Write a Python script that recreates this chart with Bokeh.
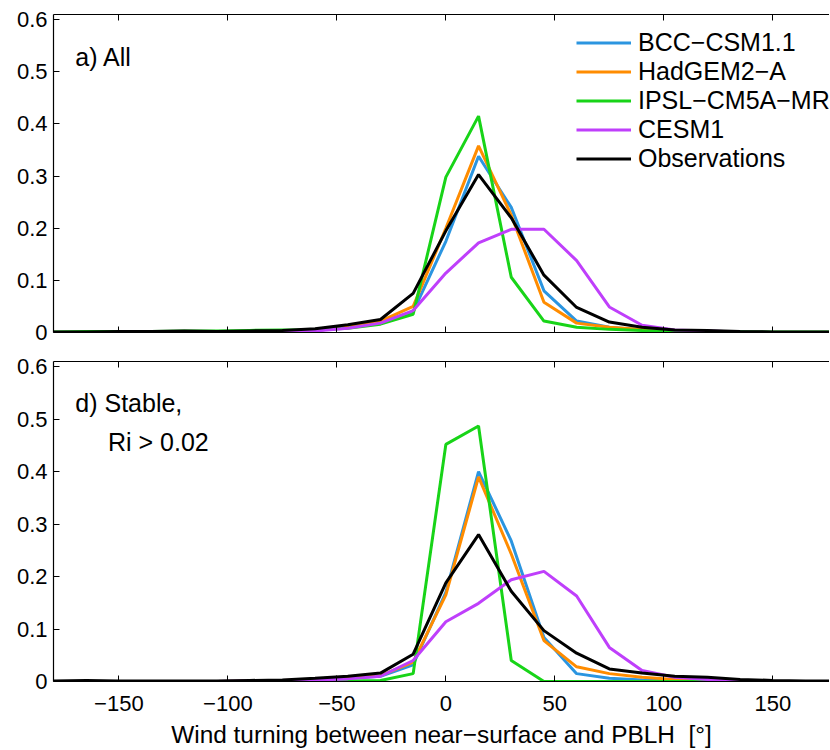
from bokeh.plotting import figure
from bokeh.layouts import column
from bokeh.models import Label, Legend, LegendItem, LinearAxis, FixedTicker
from bokeh.embed import file_html
from bokeh.resources import INLINE

# ---------------- data ----------------
angles = [-180, -165, -150, -135, -120, -105, -90, -75, -60, -45, -30, -15,
          0, 15, 30, 45, 60, 75, 90, 105, 120, 135, 150, 165, 180]

series_names = ["BCC\u2212CSM1.1", "HadGEM2\u2212A", "IPSL\u2212CM5A\u2212MR", "CESM1", "Observations"]
series_colors = ["#2b95e0", "#ff8c00", "#18d418", "#bf3ffb", "#000000"]

# panel a) All
bcc_all = [0, 0, 0, 0, 0, 0, 0.001, 0.002, 0.004, 0.010, 0.020, 0.040,
           0.175, 0.338, 0.240, 0.080, 0.022, 0.010, 0.005, 0.003, 0.002, 0.001, 0, 0, 0]
had_all = [0, 0, 0, 0, 0, 0, 0.001, 0.002, 0.004, 0.010, 0.022, 0.050,
           0.200, 0.358, 0.225, 0.058, 0.018, 0.010, 0.006, 0.004, 0.002, 0.001, 0, 0, 0]
ipsl_all = [0.001, 0.002, 0.002, 0.002, 0.003, 0.003, 0.004, 0.005, 0.005, 0.008, 0.016, 0.035,
            0.298, 0.415, 0.106, 0.022, 0.010, 0.006, 0.004, 0.003, 0.002, 0.002, 0.001, 0.001, 0.001]
cesm_all = [0, 0, 0, 0, 0, 0, 0, 0.001, 0.003, 0.008, 0.018, 0.042,
            0.114, 0.172, 0.198, 0.198, 0.138, 0.049, 0.014, 0.005, 0.003, 0.001, 0, 0, 0]
obs_all = [0.001, 0.001, 0.002, 0.002, 0.003, 0.002, 0.003, 0.004, 0.007, 0.015, 0.025, 0.075,
           0.195, 0.303, 0.220, 0.110, 0.048, 0.020, 0.010, 0.005, 0.004, 0.002, 0.001, 0.001, 0.001]

# panel d) Stable, Ri > 0.02
bcc_st = [0, 0, 0, 0, 0, 0, 0.001, 0.001, 0.003, 0.006, 0.010, 0.032,
          0.170, 0.400, 0.268, 0.084, 0.015, 0.006, 0.003, 0.002, 0.001, 0, 0, 0, 0]
had_st = [0, 0, 0, 0, 0, 0, 0.001, 0.002, 0.003, 0.006, 0.011, 0.037,
          0.165, 0.390, 0.243, 0.078, 0.028, 0.015, 0.008, 0.004, 0.002, 0.001, 0, 0, 0]
ipsl_st = [0, 0, 0, 0, 0, 0, 0, 0, 0, 0.001, 0.002, 0.015,
           0.452, 0.487, 0.040, 0.000, 0, 0, 0, 0, 0, 0, 0, 0, 0]
cesm_st = [0, 0, 0, 0, 0, 0, 0.001, 0.002, 0.003, 0.005, 0.010, 0.040,
           0.114, 0.149, 0.194, 0.210, 0.163, 0.065, 0.021, 0.008, 0.004, 0.002, 0, 0, 0]
obs_st = [0.001, 0.002, 0.001, 0.001, 0.001, 0.001, 0.002, 0.003, 0.006, 0.010, 0.016, 0.052,
          0.188, 0.280, 0.172, 0.097, 0.054, 0.024, 0.016, 0.010, 0.008, 0.004, 0.002, 0.001, 0.001]

x_ticks = [-150, -100, -50, 0, 50, 100, 150]
x_tick_labels = ["\u2212150", "\u2212100", "\u221250", "0", "50", "100", "150"]
y_ticks = [0, 0.1, 0.2, 0.3, 0.4, 0.5, 0.6]
y_tick_labels = ["0", "0.1", "0.2", "0.3", "0.4", "0.5", "0.6"]

x_label = "Wind turning between near\u2212surface and PBLH\u00a0 [\u00b0]"

FONT = "Liberation Sans"


def style_axis(ax, ticks, labels, show_labels, size="22px", standoff=6):
    ax.ticker = FixedTicker(ticks=ticks)
    ax.minor_tick_line_color = None
    ax.major_tick_in = 6
    ax.major_tick_out = 0
    ax.axis_line_color = "black"
    ax.axis_line_width = 1.2
    ax.major_tick_line_color = "black"
    ax.major_tick_line_width = 1
    ax.major_label_text_font = FONT
    if show_labels:
        ax.major_label_overrides = {t: l for t, l in zip(ticks, labels)}
        ax.major_label_text_color = "black"
        ax.major_label_text_font_size = size
        ax.major_label_standoff = standoff
    else:
        ax.major_label_overrides = {t: "" for t in ticks}
        ax.major_label_text_color = None
        ax.major_label_text_alpha = 0
        ax.major_label_standoff = 0


def make_panel(data, frame_h, border_top, border_bottom, bottom_labels):
    p = figure(frame_width=776, frame_height=frame_h,
               x_range=(-180, 176), y_range=(0, 0.61),
               output_backend="svg", toolbar_location=None,
               min_border_left=53, min_border_right=0,
               min_border_top=border_top, min_border_bottom=border_bottom,
               x_axis_location=None, y_axis_location=None)
    p.outline_line_color = None
    p.grid.visible = False
    p.background_fill_color = "white"
    p.border_fill_color = "white"

    left = LinearAxis()
    style_axis(left, y_ticks, y_tick_labels, True, size="22px", standoff=6)
    p.add_layout(left, "left")

    below = LinearAxis()
    style_axis(below, x_ticks, x_tick_labels, bottom_labels, size="22px", standoff=14)
    if bottom_labels:
        below.axis_label = x_label
        below.axis_label_text_font = FONT
        below.axis_label_text_font_size = "24.4px"
        below.axis_label_text_font_style = "normal"
        below.axis_label_text_color = "black"
        below.axis_label_standoff = 7
    p.add_layout(below, "below")

    above = LinearAxis()
    style_axis(above, x_ticks, x_tick_labels, False)
    p.add_layout(above, "above")

    renderers = []
    for ys, col in zip(data, series_colors):
        r = p.line(angles, ys, line_color=col, line_width=3)
        renderers.append(r)
    return p, renderers


p1, r1 = make_panel([bcc_all, had_all, ipsl_all, cesm_all, obs_all], 318, 14, 14, False)
p2, r2 = make_panel([bcc_st, had_st, ipsl_st, cesm_st, obs_st], 320, 15, 10, True)

legend = Legend(items=[LegendItem(label=n, renderers=[r]) for n, r in zip(series_names, r1)],
                location=(523, 159), orientation="vertical",
                border_line_color=None, background_fill_alpha=0,
                padding=0, margin=0, spacing=0,
                glyph_width=55, glyph_height=29, label_height=29,
                label_standoff=7,
                label_text_font=FONT, label_text_font_size="25px",
                label_text_color="black")
p1.add_layout(legend, "center")

p1.add_layout(Label(x=-170, y=0.528, text="a) All", text_font=FONT,
                    text_font_size="25px", text_baseline="middle", text_color="black"))
p2.add_layout(Label(x=-170, y=0.530, text="d) Stable,", text_font=FONT,
                    text_font_size="25px", text_baseline="middle", text_color="black"))
p2.add_layout(Label(x=-155, y=0.456, text="Ri > 0.02", text_font=FONT,
                    text_font_size="25px", text_baseline="middle", text_color="black"))

layout = column(p1, p2, spacing=0)

open("out.html", "w").write(file_html(layout, INLINE))
